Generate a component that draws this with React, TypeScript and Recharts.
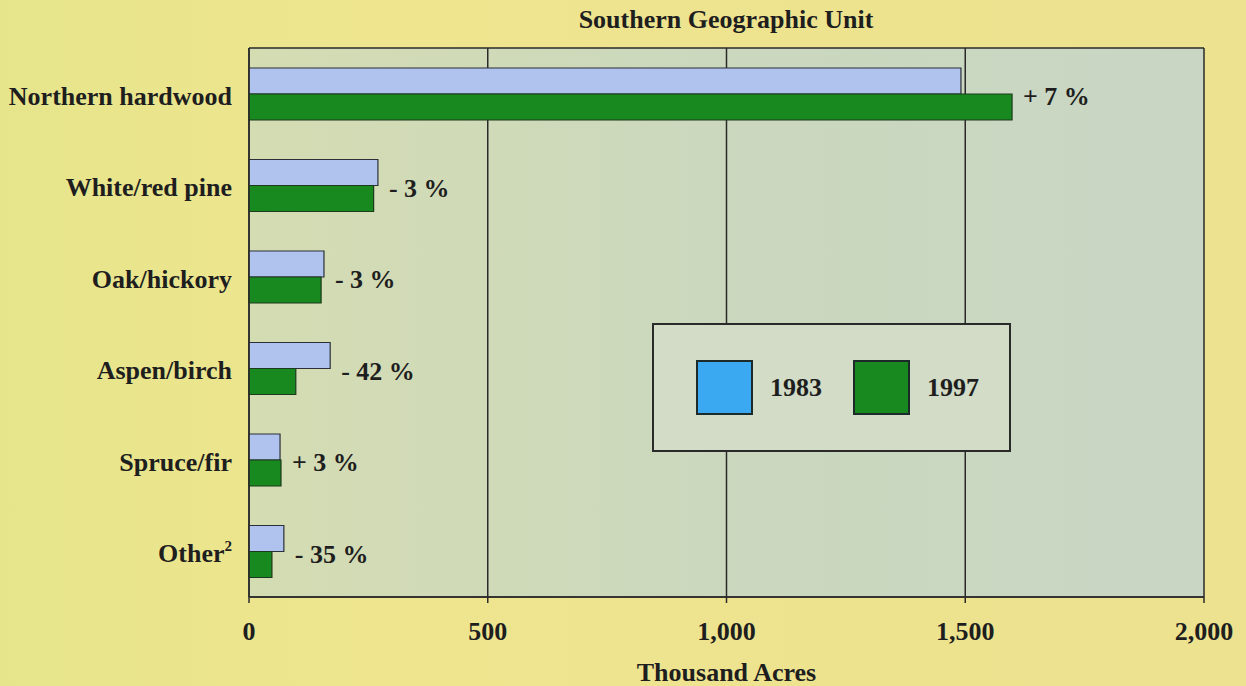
import { BarChart, Bar, XAxis, YAxis, CartesianGrid, Legend, LabelList } from "recharts";

// thousand acres
const categories = ["Northern hardwood", "White/red pine", "Oak/hickory", "Aspen/birch", "Spruce/fir", "Other"];
const acres1983 = [1491, 270, 157, 170, 65, 73];
const acres1997 = [1598, 261, 151, 98, 67, 48];
const changeLabels = ["+ 7 %", "- 3 %", "- 3 %", "- 42 %", "+ 3 %", "- 35 %"];
const xTicks = [0, 500, 1000, 1500, 2000];
const seriesNames = ["1983", "1997"];
const legendColors = ["#3ba9f2", "#17891f"];

const data = categories.map((c, i) => ({
  name: c,
  y1983: acres1983[i],
  y1997: acres1997[i],
  change: changeLabels[i],
}));

const FONT = "'Liberation Serif', 'Times New Roman', serif";
const INK = "#1e1e1e";

// eslint-disable-next-line @typescript-eslint/no-explicit-any
function CategoryTick({ x, y, payload }: any) {
  const isOther = payload.value === "Other";
  return (
    <text x={x} y={y} dy={11} textAnchor="end" fill={INK} fontFamily={FONT} fontWeight="bold" fontSize={26}>
      {payload.value}
      {isOther && (
        <tspan fontSize={15} dy={-11}>
          2
        </tspan>
      )}
    </text>
  );
}

// label sits to the right of the longer of the two bars, centred on the category
// eslint-disable-next-line @typescript-eslint/no-explicit-any
function ChangeLabel({ x, y, width, index }: any) {
  const v97 = acres1997[index];
  const vMax = Math.max(acres1983[index], v97);
  const endX = x + (width * vMax) / v97;
  return (
    <text x={endX + 11} y={y} dy={11} fill={INK} fontFamily={FONT} fontWeight="bold" fontSize={26}>
      {changeLabels[index]}
    </text>
  );
}

function LegendBox() {
  return (
    <div
      style={{
        width: 359,
        height: 129,
        boxSizing: "border-box",
        border: "2px solid #2a2a2a",
        background: "#d2dcc6",
        display: "flex",
        alignItems: "center",
        paddingLeft: 42,
        fontFamily: FONT,
        fontWeight: "bold",
        fontSize: 26,
        color: INK,
      }}
    >
      {seriesNames.map((s, i) => (
        <div key={s} style={{ display: "flex", alignItems: "center", marginRight: i === 0 ? 31 : 0 }}>
          <div
            style={{
              width: 57,
              height: 55,
              boxSizing: "border-box",
              background: legendColors[i],
              border: "2px solid #1c2a2a",
              marginRight: 17,
            }}
          />
          <span>{s}</span>
        </div>
      ))}
    </div>
  );
}

export default function App() {
  return (
    <div
      style={{
        position: "absolute",
        left: 0,
        top: 0,
        width: 1246,
        height: 686,
        background: "linear-gradient(90deg, #e6e58c 0%, #efe58f 30%, #ece28f 100%)",
        fontFamily: FONT,
      }}
    >
      <div
        style={{
          position: "absolute",
          top: 5,
          left: 0,
          width: 1452,
          textAlign: "center",
          fontWeight: "bold",
          fontSize: 26,
          lineHeight: "30px",
          color: INK,
        }}
      >
        Southern Geographic Unit
      </div>
      <BarChart
        width={1246}
        height={686}
        data={data}
        layout="vertical"
        margin={{ top: 48, right: 42, bottom: 3, left: 0 }}
        barSize={26}
        barGap={0}
      >
        <defs>
          <linearGradient id="plotBg" x1="0" y1="0" x2="1" y2="0">
            <stop offset="0%" stopColor="#d4dcb2" />
            <stop offset="50%" stopColor="#cbd8be" />
            <stop offset="100%" stopColor="#c9d6c4" />
          </linearGradient>
        </defs>
        <CartesianGrid
          fill="url(#plotBg)"
          fillOpacity={1}
          stroke="#2a2a2a"
          strokeWidth={1.5}
          vertical
          horizontal
          // eslint-disable-next-line @typescript-eslint/no-explicit-any
          horizontalCoordinatesGenerator={({ offset }: any) => [offset.top, offset.top + offset.height]}
        />
        <XAxis
          type="number"
          domain={[0, 2000]}
          ticks={xTicks}
          tickFormatter={(v) => v.toLocaleString("en-US")}
          axisLine={{ stroke: "#2a2a2a", strokeWidth: 1.5 }}
          tickLine={{ stroke: "#2a2a2a", strokeWidth: 1.5 }}
          tickSize={6}
          tickMargin={19}
          height={86}
          tick={{ fill: INK, fontFamily: FONT, fontWeight: "bold", fontSize: 26 }}
          label={{
            value: "Thousand Acres",
            position: "insideBottom",
            offset: 2,
            fill: INK,
            fontFamily: FONT,
            fontWeight: "bold",
            fontSize: 26,
          }}
        />
        <YAxis
          type="category"
          dataKey="name"
          width={249}
          axisLine={{ stroke: "#2a2a2a", strokeWidth: 1.5 }}
          tickLine={false}
          tickSize={0}
          tickMargin={17}
          tick={<CategoryTick />}
          interval={0}
        />
        <Legend
          layout="vertical"
          align="center"
          verticalAlign="middle"
          content={() => <LegendBox />}
          wrapperStyle={{ left: 652, top: 323, width: 359, height: 129 }}
        />
        <Bar dataKey="y1983" name="1983" fill="#b0c2ee" stroke="#2a2f38" strokeWidth={1.2} isAnimationActive={false} />
        <Bar dataKey="y1997" name="1997" fill="#17891f" stroke="#1c3a1c" strokeWidth={1.2} isAnimationActive={false}>
          <LabelList dataKey="change" content={<ChangeLabel />} />
        </Bar>
      </BarChart>
    </div>
  );
}
